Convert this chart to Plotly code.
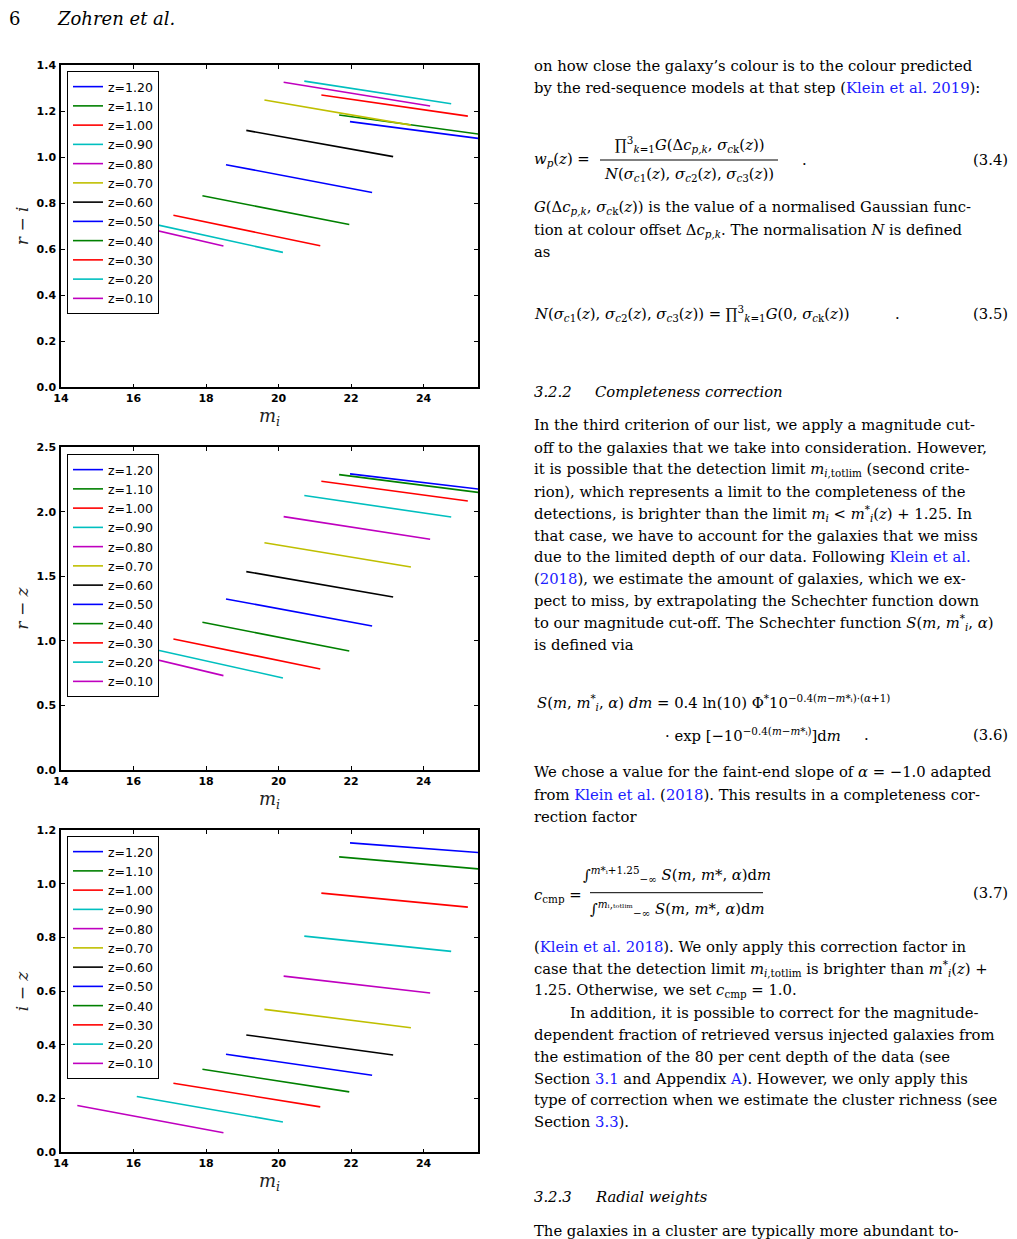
import plotly.graph_objects as go

# page is 1017x1239; the html body has an 8px margin, so the figure is placed 8px in
OFF = 8
W, H = 1001, 1231

# ---------------- data ----------------
redshifts = [1.20, 1.10, 1.00, 0.90, 0.80, 0.70, 0.60, 0.50, 0.40, 0.30, 0.20, 0.10]
labels = ["z=%.2f" % z for z in redshifts]
x_start = [21.97, 21.67, 21.18, 20.71, 20.14, 19.61, 19.11, 18.55, 17.90, 17.10, 16.09, 14.45]
x_end = [26.00, 25.70, 25.22, 24.76, 24.18, 23.65, 23.16, 22.58, 21.95, 21.15, 20.12, 18.48]
ri_start = [1.154, 1.183, 1.270, 1.330, 1.325, 1.248, 1.116, 0.967, 0.832, 0.747, 0.725, 0.761]
ri_end = [1.071, 1.096, 1.178, 1.232, 1.222, 1.139, 1.002, 0.846, 0.707, 0.615, 0.586, 0.614]
rz_start = [2.294, 2.288, 2.237, 2.126, 1.963, 1.761, 1.537, 1.325, 1.144, 1.015, 0.965, 1.001]
rz_end = [2.160, 2.144, 2.084, 1.960, 1.787, 1.573, 1.340, 1.116, 0.922, 0.783, 0.713, 0.731]
iz_start = [1.152, 1.100, 0.965, 0.805, 0.656, 0.532, 0.437, 0.365, 0.309, 0.257, 0.208, 0.174]
iz_end = [1.111, 1.053, 0.913, 0.748, 0.593, 0.464, 0.362, 0.287, 0.225, 0.169, 0.113, 0.073]

colors = ["#0000ff", "#008000", "#ff0000", "#00bfbf", "#bf00bf", "#bfbf00", "#000000"]

panels = [
    dict(sfx="", ys=ri_start, ye=ri_end, yr=[0, 1.4], dt=0.2, top=65, bot=387.3, ylab="<i>r</i> − <i>i</i>", leg_top=71),
    dict(sfx="2", ys=rz_start, ye=rz_end, yr=[0, 2.5], dt=0.5, top=447.3, bot=770, ylab="<i>r</i> − <i>z</i>", leg_top=454),
    dict(sfx="3", ys=iz_start, ye=iz_end, yr=[0, 1.2], dt=0.2, top=830, bot=1152.3, ylab="<i>i</i> − <i>z</i>", leg_top=836),
]

X0, X1 = 61, 478

fig = go.Figure()

def px(x):
    return (x - OFF) / W

def py(y):
    return 1 - (y - OFF) / H

ann = []
layout_axes = {}
for p in panels:
    s = p["sfx"]
    for i, lab in enumerate(labels):
        fig.add_trace(go.Scatter(
            x=[x_start[i], x_end[i]], y=[p["ys"][i], p["ye"][i]],
            mode="lines", name=lab,
            line=dict(color=colors[i % len(colors)], width=1.6),
            xaxis="x" + s, yaxis="y" + s, legend="legend" + s,
            hoverinfo="skip",
        ))
    axcommon = dict(showline=True, linecolor="black", linewidth=1.5, mirror="allticks",
                    ticks="inside", ticklen=4, tickwidth=1, tickcolor="black",
                    showgrid=False, zeroline=False, automargin=False,
                    tickfont=dict(family="DejaVu Sans", size=11, color="black", weight="bold"))
    layout_axes["xaxis" + s] = dict(axcommon, domain=[px(X0), px(X1)], range=[14, 25.5],
                                    tick0=14, dtick=2, anchor="y" + s, ticklabelstandoff=0)
    layout_axes["yaxis" + s] = dict(axcommon, domain=[py(p["bot"]), py(p["top"])], range=p["yr"],
                                    tick0=0, dtick=p["dt"], tickformat=".1f", anchor="x" + s,
                                    ticklabelstandoff=1)
    layout_axes["legend" + s] = dict(x=px(67), y=py(p["leg_top"]), xanchor="left", yanchor="top",
                                     bgcolor="white", bordercolor="black", borderwidth=1,
                                     font=dict(family="DejaVu Sans", size=12.5, color="black"),
                                     tracegroupgap=0, itemwidth=30)
    # axis titles
    mid = (p["top"] + p["bot"]) / 2
    ann.append(dict(x=px(22), y=py(mid), text=p["ylab"], textangle=-90,
                    xanchor="center", yanchor="middle",
                    font=dict(family="DejaVu Serif", size=17, color="#222")))
    ann.append(dict(x=px(269), y=py(p["bot"] + 30), text="<i>m<sub>i</sub></i>",
                    xanchor="center", yanchor="middle",
                    font=dict(family="DejaVu Serif", size=18, color="#222")))

# ---------------- page text ----------------
BODY = dict(family="DejaVu Serif", size=14.8, color="black")
LINK = "#2020ff"

def L(t):
    return "<span style='color:%s'>%s</span>" % (LINK, t)

def T(x, y, text, anchor="left", size=None, italic=False):
    f = dict(BODY)
    if size:
        f["size"] = size
    if italic:
        text = "<i>" + text + "</i>"
    ann.append(dict(x=px(x), y=py(y), text=text, xanchor=anchor, yanchor="middle", font=f))

T(7, 18, "6", size=18)
T(55, 18, "Zohren et al.", size=18, italic=True)

LX = 532
body_lines = [
    (65, "on how close the galaxy’s colour is to the colour predicted"),
    (87.3, "by the red-sequence models at that step (" + L("Klein et al. 2019") + "):"),
    (207.3, "<i>G</i>(Δ<i>c</i><sub><i>p,k</i></sub>, <i>σ</i><sub><i>c</i>k</sub>(<i>z</i>)) is the value of a normalised Gaussian func-"),
    (230, "tion at colour offset Δ<i>c</i><sub><i>p,k</i></sub>. The normalisation <i>N</i> is defined"),
    (251.7, "as"),
    (425, "In the third criterion of our list, we apply a magnitude cut-"),
    (447.3, "off to the galaxies that we take into consideration. However,"),
    (469.3, "it is possible that the detection limit <i>m</i><sub><i>i</i>,totlim</sub> (second crite-"),
    (491.7, "rion), which represents a limit to the completeness of the"),
    (513.3, "detections, is brighter than the limit <i>m<sub>i</sub></i> &lt; <i>m</i><sup>*</sup><sub><i>i</i></sub>(<i>z</i>) + 1.25. In"),
    (535, "that case, we have to account for the galaxies that we miss"),
    (556.7, "due to the limited depth of our data. Following " + L("Klein et al.")),
    (578.3, "(" + L("2018") + "), we estimate the amount of galaxies, which we ex-"),
    (600.7, "pect to miss, by extrapolating the Schechter function down"),
    (622.7, "to our magnitude cut-off. The Schechter function <i>S</i>(<i>m</i>, <i>m</i><sup>*</sup><sub><i>i</i></sub>, <i>α</i>)"),
    (644.3, "is defined via"),
    (771.7, "We chose a value for the faint-end slope of <i>α</i> = −1.0 adapted"),
    (794.3, "from " + L("Klein et al.") + " (" + L("2018") + "). This results in a completeness cor-"),
    (816.7, "rection factor"),
    (946.7, "(" + L("Klein et al. 2018") + "). We only apply this correction factor in"),
    (968.3, "case that the detection limit <i>m</i><sub><i>i</i>,totlim</sub> is brighter than <i>m</i><sup>*</sup><sub><i>i</i></sub>(<i>z</i>) +"),
    (990.7, "1.25. Otherwise, we set <i>c</i><sub>cmp</sub> = 1.0."),
    (1034, "dependent fraction of retrieved versus injected galaxies from"),
    (1056.7, "the estimation of the 80 per cent depth of the data (see"),
    (1078.3, "Section " + L("3.1") + " and Appendix " + L("A") + "). However, we only apply this"),
    (1099.3, "type of correction when we estimate the cluster richness (see"),
    (1121.7, "Section " + L("3.3") + ")."),
    (1230, "The galaxies in a cluster are typically more abundant to-"),
]
for y, t in body_lines:
    T(LX, y, t)
T(568, 1012.7, "In addition, it is possible to correct for the magnitude-")

# section headings
T(LX, 391.7, "3.2.2", italic=True)
T(593, 391.7, "Completeness correction", italic=True)
T(LX, 1196.7, "3.2.3", italic=True)
T(593, 1196.7, "Radial weights", italic=True)

# equation 3.4
T(LX, 160, "<i>w<sub>p</sub></i>(<i>z</i>) =")
T(689, 144, "∏<sup>3</sup><sub><i>k</i>=1</sub><i>G</i>(Δ<i>c</i><sub><i>p,k</i></sub>, <i>σ</i><sub><i>c</i>k</sub>(<i>z</i>))", anchor="center")
T(689, 175, "<i>N</i>(<i>σ</i><sub><i>c</i>1</sub>(<i>z</i>), <i>σ</i><sub><i>c</i>2</sub>(<i>z</i>), <i>σ</i><sub><i>c</i>3</sub>(<i>z</i>))", anchor="center")
T(800, 160, ".")
T(1010, 160, "(3.4)", anchor="right")

# equation 3.5
T(LX, 313, "<i>N</i>(<i>σ</i><sub><i>c</i>1</sub>(<i>z</i>), <i>σ</i><sub><i>c</i>2</sub>(<i>z</i>), <i>σ</i><sub><i>c</i>3</sub>(<i>z</i>)) = ∏<sup>3</sup><sub><i>k</i>=1</sub><i>G</i>(0, <i>σ</i><sub><i>c</i>k</sub>(<i>z</i>))")
T(893, 313, ".")
T(1010, 313, "(3.5)", anchor="right")

# equation 3.6
T(535, 702, "<i>S</i>(<i>m</i>, <i>m</i><sup>*</sup><sub><i>i</i></sub>, <i>α</i>) <i>dm</i> = 0.4 ln(10) Φ<sup>*</sup>10<sup>−0.4(<i>m</i>−<i>m</i>*ᵢ)·(<i>α</i>+1)</sup>")
T(663, 735, "· exp [−10<sup>−0.4(<i>m</i>−<i>m</i>*ᵢ)</sup>]d<i>m</i>")
T(862, 735, ".")
T(1010, 735, "(3.6)", anchor="right")

# equation 3.7
T(LX, 895, "<i>c</i><sub>cmp</sub> =")
T(677, 874, "∫<sup><i>m</i>*ᵢ+1.25</sup><sub>−∞</sub> <i>S</i>(<i>m</i>, <i>m</i>*, <i>α</i>)d<i>m</i>", anchor="center")
T(677, 909, "∫<sup><i>m</i>ᵢ,ₜₒₜₗᵢₘ</sup><sub>−∞</sub> <i>S</i>(<i>m</i>, <i>m</i>*, <i>α</i>)d<i>m</i>", anchor="center")
T(1010, 892, "(3.7)", anchor="right")

for a in ann:
    a.setdefault("xref", "paper")
    a.setdefault("yref", "paper")
    a["showarrow"] = False

shapes = [
    dict(type="line", xref="paper", yref="paper", x0=px(600), x1=px(778), y0=py(160), y1=py(160),
         line=dict(color="black", width=1)),
    dict(type="line", xref="paper", yref="paper", x0=px(590), x1=px(763), y0=py(892.7), y1=py(892.7),
         line=dict(color="black", width=1)),
]

fig.update_layout(
    template="none",
    width=W, height=H, margin=dict(l=0, r=0, t=0, b=0, pad=0, autoexpand=False),
    paper_bgcolor="white", plot_bgcolor="white",
    showlegend=True, annotations=ann, shapes=shapes,
    **layout_axes,
)

fig.write_html("out.html")
